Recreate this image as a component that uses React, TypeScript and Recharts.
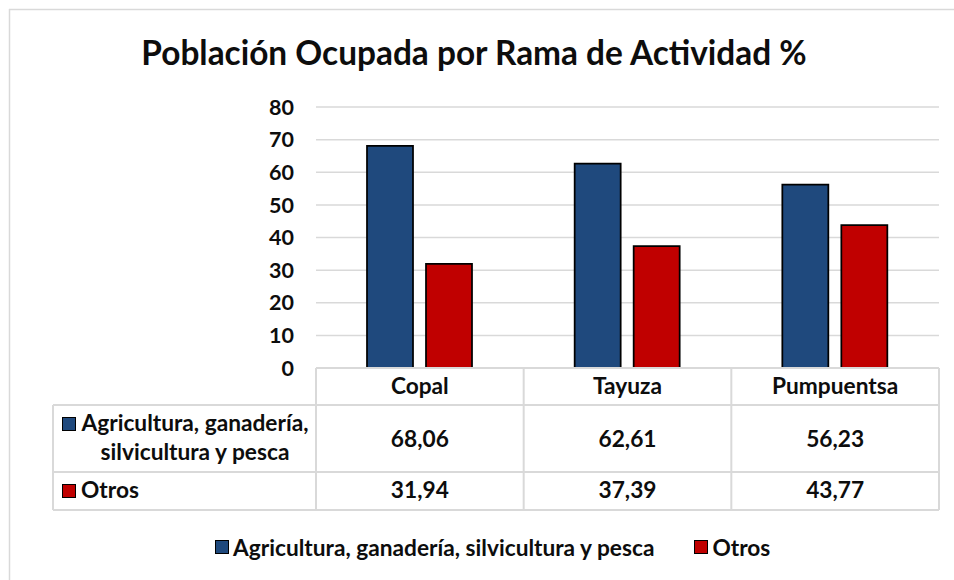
import React from "react"
import { BarChart, Bar, XAxis, YAxis, CartesianGrid, Legend } from "recharts"

const categories = ["Copal", "Tayuza", "Pumpuentsa"]
const agricultura = [68.06, 62.61, 56.23]
const otros = [31.94, 37.39, 43.77]
const yTicks = [0, 10, 20, 30, 40, 50, 60, 70, 80]

const AGRI_LABEL = "Agricultura, ganadería, silvicultura y pesca"
const OTROS_LABEL = "Otros"
const BLUE = "#1f497d"
const RED = "#c00000"
const GRID = "#d9d9d9"
const TEXT = "#0d0d0d"
const FONT = "Lato, 'Open Sans', sans-serif"
const FS = 22.7

const W = 954
const H = 580
const PLOT_LEFT = 316
const PLOT_RIGHT = 939
const PLOT_TOP = 107
const PLOT_BOTTOM = 368
const Y_AXIS_W = 40
const X_AXIS_H = 30
const COL_W = (PLOT_RIGHT - PLOT_LEFT) / categories.length

const ROW1 = 405
const ROW2 = 472
const ROW3 = 510

const data = categories.map((name, i) => ({
  name,
  agricultura: agricultura[i],
  otros: otros[i],
}))

const fmt = (v: number) => v.toFixed(2).replace(".", ",")

const textStyle = { fontFamily: FONT, fontWeight: 700, fontSize: FS, fill: TEXT }

function TableColumn(props: any) {
  const { x, y, payload } = props
  const i = categories.indexOf(payload.value)
  const half = COL_W / 2
  return (
    <g>
      <line x1={x - half} x2={x - half} y1={y} y2={ROW3} stroke={GRID} strokeWidth={2} />
      {i === categories.length - 1 && (
        <line x1={x + half} x2={x + half} y1={y} y2={ROW3} stroke={GRID} strokeWidth={2} />
      )}
      <text x={x} y={394} textAnchor="middle" {...textStyle}>{payload.value}</text>
      <text x={x} y={447} textAnchor="middle" {...textStyle}>{fmt(agricultura[i])}</text>
      <text x={x} y={498} textAnchor="middle" {...textStyle}>{fmt(otros[i])}</text>
    </g>
  )
}

function LegendContent(props: any) {
  const items = props.payload || []
  return (
    <div style={{ display: "flex", alignItems: "center", gap: 40, fontFamily: FONT, fontWeight: 700, fontSize: FS, color: TEXT, whiteSpace: "nowrap", height: 0, overflow: "visible" }}>
      {items.map((it: any) => (
        <div key={it.value} style={{ display: "flex", alignItems: "center" }}>
          <span style={{ display: "inline-block", width: 12, height: 12, background: it.color, border: "1px solid #000", marginRight: 4 }} />
          <span>{it.value}</span>
        </div>
      ))}
    </div>
  )
}

export default function App() {
  return (
    <div style={{ position: "absolute", left: 0, top: 0, width: W, height: H, background: "#fff", overflow: "hidden" }}>
      <svg width={W} height={H} style={{ position: "absolute", left: 0, top: 0 }}>
        <line x1={9} x2={W} y1={9.5} y2={9.5} stroke={GRID} strokeWidth={1.5} />
        <line x1={9.5} x2={9.5} y1={9} y2={H} stroke={GRID} strokeWidth={1.5} />
      </svg>
      <div style={{ position: "absolute", left: 0, top: 0 }}>
        <BarChart
          width={W}
          height={H}
          data={data}
          barSize={46}
          barGap={13}
          margin={{ top: PLOT_TOP, right: W - PLOT_RIGHT, bottom: H - PLOT_BOTTOM - X_AXIS_H, left: PLOT_LEFT - Y_AXIS_W }}
        >
          <CartesianGrid vertical={false} stroke={GRID} strokeWidth={1.5} />
          <XAxis
            dataKey="name"
            height={X_AXIS_H}
            interval={0}
            tickLine={false}
            tickSize={0}
            tickMargin={0}
            axisLine={{ stroke: GRID, strokeWidth: 2 }}
            tick={<TableColumn />}
          />
          <YAxis
            width={Y_AXIS_W}
            domain={[0, 80]}
            ticks={yTicks}
            interval={0}
            axisLine={false}
            tickLine={false}
            tickSize={0}
            tickMargin={22}
            tick={{ ...textStyle, fontSize: 21.5 }}
          />
          <Legend
            content={<LegendContent />}
            wrapperStyle={{ position: "absolute", top: 547, left: 215, width: "auto", height: 0, overflow: "visible" }}
          />
          <Bar dataKey="agricultura" name={AGRI_LABEL} fill={BLUE} stroke="#000" strokeWidth={1.75} isAnimationActive={false} />
          <Bar dataKey="otros" name={OTROS_LABEL} fill={RED} stroke="#000" strokeWidth={1.75} isAnimationActive={false} />
        </BarChart>
      </div>
      <svg width={W} height={H} style={{ position: "absolute", left: 0, top: 0, pointerEvents: "none" }}>
        <text x={474} y={65} textAnchor="middle" style={{ fontFamily: FONT, fontWeight: 700, fontSize: 33.4 }} fill={TEXT}>
          Población Ocupada por Rama de Actividad %
        </text>
        <line x1={53} x2={PLOT_RIGHT} y1={ROW1} y2={ROW1} stroke={GRID} strokeWidth={2} />
        <line x1={53} x2={PLOT_RIGHT} y1={ROW2} y2={ROW2} stroke={GRID} strokeWidth={2} />
        <line x1={53} x2={PLOT_RIGHT} y1={ROW3} y2={ROW3} stroke={GRID} strokeWidth={2} />
        <line x1={53} x2={53} y1={ROW1} y2={ROW3} stroke={GRID} strokeWidth={2} />
        <rect x={62.5} y={417.5} width={13} height={13} fill={BLUE} stroke="#000" strokeWidth={1} />
        <text x={195} y={431} textAnchor="middle" {...textStyle}>Agricultura, ganadería,</text>
        <text x={195} y={460} textAnchor="middle" {...textStyle}>silvicultura y pesca</text>
        <rect x={62.5} y={484.5} width={13} height={13} fill={RED} stroke="#000" strokeWidth={1} />
        <text x={81} y={498} {...textStyle}>{OTROS_LABEL}</text>
      </svg>
    </div>
  )
}
